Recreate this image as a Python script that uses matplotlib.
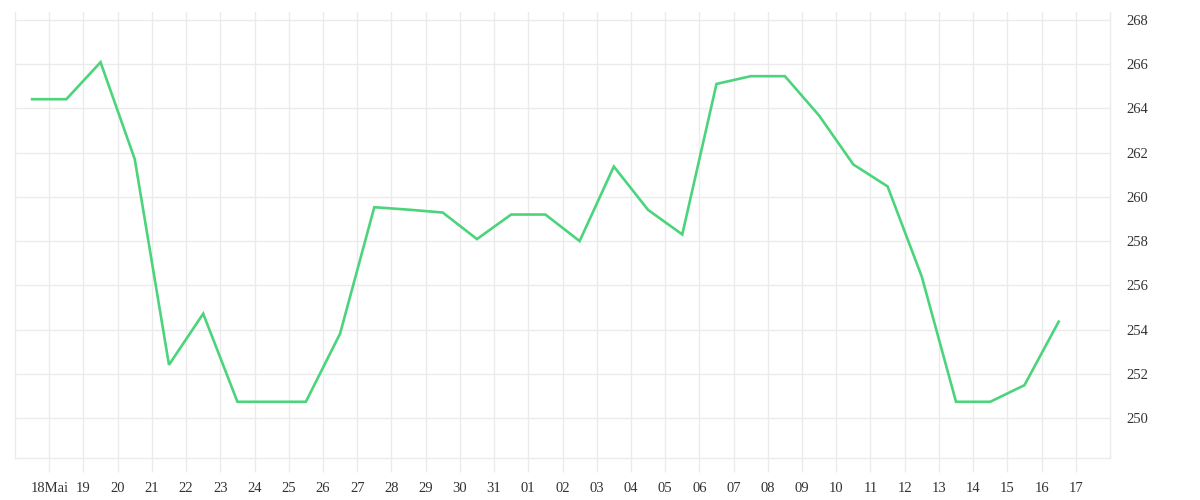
import matplotlib
matplotlib.use("Agg")
import matplotlib.pyplot as plt
import numpy as np

# day labels, 18 May .. 17 June
day_labels = ["18Mai", "19", "20", "21", "22", "23", "24", "25", "26", "27",
              "28", "29", "30", "31", "01", "02", "03", "04", "05", "06",
              "07", "08", "09", "10", "11", "12", "13", "14", "15", "16", "17"]

# one value per day (plotted half a day before each tick)
prices = [264.41, 264.41, 266.08, 261.70, 252.41, 254.72, 250.74, 250.74,
          250.74, 253.82, 259.53, 259.42, 259.29, 258.09, 259.20, 259.20,
          258.00, 261.37, 259.41, 258.30, 265.10, 265.45, 265.45, 263.67,
          261.46, 260.47, 256.39, 250.74, 250.74, 251.49, 254.36]

y_ticks = [250, 252, 254, 256, 258, 260, 262, 264, 266, 268]

grid_col = "#ebebeb"
text_col = "#333333"
line_col = "#4cd47c"

plt.rcParams["font.family"] = ["Liberation Serif", "DejaVu Serif"]

fig = plt.figure(figsize=(12, 5), dpi=100)
ax = fig.add_axes([15 / 1200, 42 / 500, 1095 / 1200, 446 / 500])

tick_pos = np.arange(len(day_labels))
x = np.arange(len(prices)) - 0.5
ax.plot(x, prices, color=line_col, linewidth=1.9, solid_joinstyle="miter")

ax.set_xlim(-1, len(day_labels))
ax.set_ylim(248.2, 268.35)

ax.set_xticks(tick_pos)
ax.set_xticklabels(day_labels)
ax.set_yticks(y_ticks)
ax.set_yticklabels([str(v) for v in y_ticks])

ax.yaxis.tick_right()
ax.tick_params(axis="y", length=0, pad=12, labelsize=10.5, labelcolor=text_col)
ax.tick_params(axis="x", length=10, width=1, color=grid_col, pad=7,
               labelsize=10.5, labelcolor=text_col)

ax.grid(True, color=grid_col, linewidth=1)
ax.set_axisbelow(True)

for side in ["left", "right", "bottom"]:
    ax.spines[side].set_color(grid_col)
    ax.spines[side].set_linewidth(1)
ax.spines["top"].set_visible(False)

fig.savefig("out.png", dpi=100, facecolor="white")
